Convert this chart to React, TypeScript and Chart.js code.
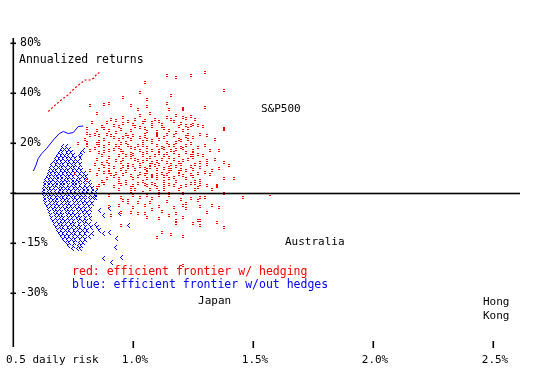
import { useEffect, useRef } from 'react';
import { Chart, registerables } from 'chart.js';

Chart.register(...registerables);

// ---- axis definitions (y axis is an ordinal-like return scale: each step is one grid unit) ----
const xMin = 0.5;
const xMax = 2.6125;
const yMin = -3.08;
const yMax = 3.1;
const xTickValues = [0.5, 1.0, 1.5, 2.0, 2.5];
const xTickLabels = ['0.5 daily risk', '1.0%', '1.5%', '2.0%', '2.5%'];
const yTickValues = [3, 2, 1, 0, -1, -2];
const yTickLabels = ['80%', '40%', '20%', '', '-15%', '-30%'];

// ---- efficient frontiers ----
const hedgedRisk = [0.647, 0.667, 0.703, 0.729, 0.758, 0.779, 0.8, 0.821, 0.8375, 0.849, 0.86];
const hedgedRet = [1.63, 1.72, 1.87, 1.96, 2.1, 2.18, 2.26, 2.26, 2.3, 2.38, 2.41];
const unhedgedRisk = [0.585, 0.596, 0.605, 0.62, 0.64, 0.668, 0.693, 0.71, 0.73, 0.751, 0.772, 0.793];
const unhedgedRet = [0.44, 0.56, 0.69, 0.79, 0.89, 1.06, 1.19, 1.23, 1.19, 1.21, 1.33, 1.34];

// ---- red cloud (with hedging): [risk, return] ----
const redCloud: number[][] = [
  [1.14, 2.36], [1.18, 2.32], [1.24, 2.36], [1.3, 2.42], [1.05, 2.22], [1.03, 2.02], [1.38, 2.06], [0.96, 1.92],
  [1.06, 1.88], [1.14, 1.8], [0.9, 1.8], [0.88, 1.78], [0.82, 1.76], [0.99, 1.76], [1.06, 1.74], [1.02, 1.68],
  [1.21, 1.68], [1.15, 1.68], [1.3, 1.72], [0.85, 1.6], [0.96, 1.52], [1.03, 1.56], [1.07, 1.6], [1.14, 1.52],
  [1.18, 1.56], [1.22, 1.5], [0.83, 1.42], [0.89, 1.42], [0.92, 1.36], [0.96, 1.4], [1.0, 1.38], [1.05, 1.46],
  [1.08, 1.42], [1.11, 1.44], [1.2, 1.4], [1.24, 1.36], [1.27, 1.36], [1.38, 1.28], [0.81, 1.3], [0.85, 1.26],
  [0.9, 1.26], [0.93, 1.22], [0.99, 1.26], [1.03, 1.32], [1.06, 1.24], [1.1, 1.24], [1.15, 1.26], [1.18, 1.22],
  [1.21, 1.26], [0.82, 1.16], [0.86, 1.16], [0.92, 1.12], [0.96, 1.12], [1.0, 1.16], [1.03, 1.12], [1.08, 1.06],
  [1.13, 1.12], [1.17, 1.16], [1.2, 1.06], [1.25, 1.12], [1.31, 1.16], [0.81, 1.02], [0.85, 1.0], [0.9, 1.0],
  [0.95, 1.0], [0.99, 0.92], [1.04, 0.96], [1.08, 1.02], [1.12, 0.92], [1.15, 0.96], [1.2, 0.92], [1.24, 1.0],
  [1.27, 0.92], [0.84, 0.9], [0.88, 0.84], [0.92, 0.88], [0.96, 0.82], [1.0, 0.78], [1.06, 0.82], [1.08, 0.86],
  [1.14, 0.8], [1.18, 0.88], [1.22, 0.82], [1.27, 0.78], [1.32, 0.86], [0.9, 0.72], [0.93, 0.66], [0.99, 0.72],
  [1.02, 0.66], [1.07, 0.72], [1.1, 0.64], [1.15, 0.72], [1.21, 0.66], [1.25, 0.72], [1.31, 0.66], [1.38, 0.62],
  [0.87, 0.6], [0.92, 0.52], [0.96, 0.54], [1.0, 0.56], [1.05, 0.5], [1.09, 0.56], [1.13, 0.5], [1.18, 0.54],
  [1.22, 0.46], [1.28, 0.52], [1.33, 0.46], [1.4, 0.56], [0.88, 0.42], [0.93, 0.4], [0.99, 0.36], [1.03, 0.4],
  [1.08, 0.36], [1.12, 0.4], [1.17, 0.32], [1.21, 0.36], [1.27, 0.4], [1.28, 0.26], [1.35, 0.14], [1.42, 0.3],
  [0.86, 0.16], [0.92, 0.14], [0.97, 0.2], [1.02, 0.2], [1.06, 0.16], [1.1, 0.12], [1.15, 0.18], [1.2, 0.14],
  [1.24, 0.2], [1.31, 0.16], [0.99, 0.04], [1.04, 0.02], [1.11, 0.04], [1.15, 0.0], [1.21, 0.0], [1.38, 0.0],
  [1.46, -0.08], [1.26, 0.2], [1.28, -0.08], [1.3, -0.08], [1.27, -0.14], [1.21, -0.24], [1.22, -0.2], [1.28, -0.26],
  [1.33, -0.24], [1.36, -0.28], [1.22, -0.3], [1.31, -0.38], [1.35, -0.58], [1.27, -0.54], [1.25, -0.6], [1.28, -0.64],
  [1.38, -0.68], [0.94, 0.22], [0.99, 0.12], [1.08, 0.2], [1.13, 0.16], [1.27, 0.12], [1.35, 0.16], [0.9, -0.04],
  [0.95, -0.08], [0.98, -0.14], [1.0, -0.04], [1.03, -0.08], [1.06, -0.04], [1.08, -0.1], [1.11, -0.04], [1.15, -0.04],
  [1.24, -0.1], [0.96, -0.14], [0.98, -0.17], [1.02, -0.18], [1.07, -0.18], [1.14, -0.16], [1.2, -0.12], [0.9, -0.26],
  [0.94, -0.24], [1.0, -0.28], [1.05, -0.24], [1.11, -0.26], [1.17, -0.28], [0.95, -0.38], [0.99, -0.38], [1.02, -0.4],
  [1.05, -0.4], [1.08, -0.32], [1.12, -0.36], [1.15, -0.44], [1.18, -0.4], [1.06, -0.48], [1.11, -0.5], [1.18, -0.54],
  [1.21, -0.48], [1.28, -0.54], [0.91, -0.44], [0.95, -0.64], [1.12, -0.78], [1.16, -0.82], [1.21, -0.86], [1.1, -0.88],
  [1.18, -0.6], [1.21, -1.44], [0.81, 1.2], [0.81, 0.96], [0.77, 1.0], [0.76, 0.4], [0.82, 0.46], [0.81, 0.26],
  [0.85, 0.12], [0.88, 0.2], [1.21, 1.7], [1.21, 1.52], [1.24, 1.54], [1.22, 1.36], [1.25, 1.38], [1.38, 1.3],
  [1.16, 1.96], [1.57, -0.02],
  [0.91, 1.48], [1.01, 1.48], [1.09, 1.48], [1.16, 1.48], [1.26, 1.48],
  [0.87, 1.34], [0.94, 1.34], [1.01, 1.34], [1.08, 1.34], [1.12, 1.34], [1.19, 1.34], [1.29, 1.34],
  [0.84, 1.19], [0.89, 1.19], [0.97, 1.19], [1.05, 1.19], [1.1, 1.19], [1.14, 1.19], [1.23, 1.19], [1.28, 1.19],
  [0.8, 1.08], [0.88, 1.08], [0.94, 1.08], [0.99, 1.08], [1.06, 1.08], [1.11, 1.08], [1.19, 1.08], [1.23, 1.08], [1.34, 1.08],
  [0.86, 0.97], [0.93, 0.97], [0.98, 0.97], [1.02, 0.97], [1.1, 0.97], [1.17, 0.97], [1.22, 0.97], [1.3, 0.97],
  [0.82, 0.87], [0.9, 0.87], [0.95, 0.87], [1.03, 0.87], [1.11, 0.87], [1.16, 0.87], [1.25, 0.87], [1.36, 0.87],
  [0.87, 0.76], [0.94, 0.76], [0.97, 0.76], [1.04, 0.76], [1.09, 0.76], [1.13, 0.76], [1.19, 0.76], [1.24, 0.76], [1.29, 0.76],
  [0.85, 0.69], [0.96, 0.69], [1.01, 0.69], [1.06, 0.69], [1.12, 0.69], [1.17, 0.69], [1.23, 0.69], [1.34, 0.69],
  [0.84, 0.58], [0.9, 0.58], [0.98, 0.58], [1.03, 0.58], [1.07, 0.58], [1.11, 0.58], [1.16, 0.58], [1.2, 0.58], [1.26, 0.58], [1.31, 0.58],
  [0.86, 0.48], [0.9, 0.48], [0.95, 0.48], [1.01, 0.48], [1.06, 0.48], [1.1, 0.48], [1.16, 0.48], [1.2, 0.48], [1.25, 0.48],
  [0.85, 0.38], [0.91, 0.38], [0.96, 0.38], [1.05, 0.38], [1.1, 0.38], [1.14, 0.38], [1.19, 0.38], [1.24, 0.38], [1.32, 0.38],
  [0.89, 0.3], [0.94, 0.3], [1.0, 0.3], [1.06, 0.3], [1.1, 0.3], [1.15, 0.3], [1.22, 0.3], [1.38, 0.3],
  [0.87, 0.24], [0.97, 0.24], [1.04, 0.24], [1.13, 0.24], [1.18, 0.24], [1.26, 0.24],
  [0.94, 0.08], [1.01, 0.08], [1.07, 0.08], [1.13, 0.08], [1.19, 0.08], [1.26, 0.08], [1.33, 0.08],
  [0.93, 1.45], [0.98, 1.44], [1.04, 1.41], [1.12, 1.39], [1.17, 1.43], [0.88, 1.3], [0.95, 1.28], [1.05, 1.29],
  [1.13, 1.3], [1.23, 1.29], [0.91, 1.16], [0.98, 1.14], [1.05, 1.14], [1.1, 1.15], [1.22, 1.14], [0.86, 1.04],
  [0.97, 1.03], [1.04, 1.04], [1.14, 1.03], [1.18, 1.02], [0.88, 0.94], [0.94, 0.93], [1.01, 0.9], [1.06, 0.92],
  [1.13, 0.9], [1.21, 0.89], [0.86, 0.82], [0.99, 0.81], [1.04, 0.8], [1.11, 0.81], [1.17, 0.82], [1.25, 0.81],
  [0.89, 0.64], [0.95, 0.63], [1.04, 0.64], [1.08, 0.62], [1.14, 0.63], [1.19, 0.62], [1.28, 0.62], [0.88, 0.53],
  [0.98, 0.52], [1.03, 0.53], [1.07, 0.52], [1.15, 0.52], [1.24, 0.53], [1.36, 0.5], [0.9, 0.42], [0.97, 0.43],
  [1.06, 0.42], [1.15, 0.43], [1.19, 0.44], [1.3, 0.42], [0.92, 0.33], [1.02, 0.33], [1.08, 0.33], [1.13, 0.34],
  [1.25, 0.33], [0.95, 0.18], [1.0, 0.17], [1.05, 0.19], [1.09, 0.18], [1.17, 0.16], [1.22, 0.15], [1.28, 0.18],
];

// ---- blue cloud (without hedges): rows of equal return, with the risks read in each row ----
const blueRowRet = [
  0.94, 0.88, 0.82, 0.76, 0.7, 0.64, 0.58, 0.52, 0.46, 0.4, 0.34, 0.28, 0.22, 0.16, 0.1, 0.04, -0.02, -0.08,
  -0.14, -0.2, -0.26, -0.32, -0.38, -0.44, -0.5, -0.56, -0.62, -0.68, -0.74, -0.8, -0.86, -0.92, -0.98, -1.04, -1.1,
];
const blueRowRisk: number[][] = [
  [0.705, 0.72],
  [0.7, 0.715, 0.735],
  [0.69, 0.705, 0.725, 0.74, 0.785],
  [0.685, 0.7, 0.715, 0.73, 0.75, 0.775],
  [0.675, 0.69, 0.71, 0.725, 0.74, 0.76],
  [0.67, 0.685, 0.7, 0.72, 0.735, 0.755, 0.77],
  [0.66, 0.68, 0.695, 0.71, 0.73, 0.745, 0.76, 0.78],
  [0.655, 0.67, 0.69, 0.705, 0.72, 0.74, 0.755, 0.775],
  [0.65, 0.665, 0.68, 0.7, 0.715, 0.73, 0.75, 0.765, 0.785],
  [0.645, 0.66, 0.675, 0.69, 0.71, 0.725, 0.74, 0.76, 0.78, 0.795],
  [0.64, 0.655, 0.67, 0.685, 0.7, 0.72, 0.735, 0.75, 0.77, 0.79, 0.805],
  [0.635, 0.65, 0.665, 0.685, 0.7, 0.715, 0.73, 0.745, 0.765, 0.78, 0.8],
  [0.63, 0.645, 0.66, 0.68, 0.695, 0.71, 0.725, 0.745, 0.76, 0.775, 0.795, 0.815],
  [0.63, 0.645, 0.665, 0.68, 0.695, 0.71, 0.73, 0.745, 0.76, 0.78, 0.8, 0.82],
  [0.625, 0.64, 0.655, 0.67, 0.69, 0.705, 0.72, 0.735, 0.755, 0.77, 0.79, 0.81, 0.83],
  [0.625, 0.645, 0.66, 0.675, 0.69, 0.71, 0.725, 0.74, 0.76, 0.775, 0.79, 0.81, 0.83, 0.845],
  [0.625, 0.64, 0.655, 0.67, 0.685, 0.7, 0.72, 0.735, 0.75, 0.77, 0.785, 0.8, 0.82, 0.84],
  [0.63, 0.645, 0.66, 0.68, 0.695, 0.71, 0.725, 0.745, 0.76, 0.78, 0.795, 0.815, 0.835],
  [0.63, 0.65, 0.665, 0.68, 0.7, 0.715, 0.73, 0.75, 0.765, 0.785, 0.8, 0.82],
  [0.635, 0.655, 0.67, 0.685, 0.705, 0.72, 0.735, 0.755, 0.77, 0.79, 0.81, 0.83],
  [0.64, 0.66, 0.675, 0.69, 0.71, 0.725, 0.74, 0.76, 0.775, 0.795, 0.815],
  [0.645, 0.665, 0.68, 0.695, 0.715, 0.73, 0.745, 0.765, 0.785, 0.8, 0.82],
  [0.65, 0.67, 0.685, 0.7, 0.72, 0.735, 0.75, 0.77, 0.79, 0.81],
  [0.655, 0.675, 0.69, 0.705, 0.725, 0.74, 0.76, 0.775, 0.795, 0.815],
  [0.66, 0.68, 0.695, 0.71, 0.73, 0.745, 0.765, 0.78, 0.8, 0.82],
  [0.665, 0.685, 0.7, 0.715, 0.735, 0.75, 0.77, 0.79, 0.805],
  [0.67, 0.69, 0.705, 0.72, 0.74, 0.755, 0.775, 0.795, 0.815, 0.84],
  [0.68, 0.695, 0.71, 0.73, 0.745, 0.765, 0.78, 0.8, 0.825, 0.85],
  [0.685, 0.7, 0.72, 0.735, 0.755, 0.77, 0.79, 0.81, 0.86],
  [0.69, 0.71, 0.725, 0.745, 0.76, 0.78, 0.8, 0.83],
  [0.7, 0.715, 0.735, 0.75, 0.77, 0.79, 0.815],
  [0.71, 0.725, 0.745, 0.76, 0.78, 0.8],
  [0.72, 0.735, 0.755, 0.775, 0.79],
  [0.73, 0.75, 0.77, 0.785],
  [0.745, 0.765, 0.78],
];
const blueOutliers: number[][] = [
  [0.875, -0.8], [0.9, -0.78], [0.93, -0.9], [0.98, -0.64], [0.925, -1.08], [0.875, -1.3], [0.91, -1.38],
  [0.95, -1.28], [0.875, -0.44], [0.9, -0.3], [0.94, -0.4], [0.86, -0.34], [0.84, -0.08], [0.79, 0.86], [0.78, 0.72],
];

// ---- text notes placed in data coordinates ----
const notes = [
  { text: 'Annualized returns', x: 0.525, y: 2.66, color: '#000000', size: 11.5 },
  { text: 'S&P500', x: 1.533, y: 1.68, color: '#000000', size: 11 },
  { text: 'Australia', x: 1.633, y: -0.98, color: '#000000', size: 11 },
  { text: 'Japan', x: 1.271, y: -2.16, color: '#000000', size: 11 },
  { text: 'Hong', x: 2.458, y: -2.18, color: '#000000', size: 11 },
  { text: 'Kong', x: 2.458, y: -2.46, color: '#000000', size: 11 },
  { text: 'red: efficient frontier w/ hedging', x: 0.746, y: -1.58, color: '#ff0000', size: 11.5 },
  { text: 'blue: efficient frontier w/out hedges', x: 0.746, y: -1.84, color: '#0000ff', size: 11.5 },
];

const FONT = '"DejaVu Sans Mono", "Liberation Mono", monospace';

// pixel patterns of the two marks ("=" for red, "<" for blue), relative to the point
const redMarkPixels = [[-1, -1], [0, -1], [-1, 1], [0, 1]];
const blueMarkPixels = [[1, -2], [0, -1], [-1, 0], [0, 1], [1, 2]];

function drawMarks(chart: any, datasetIndex: number, color: string, pixels: number[][]) {
  const ctx = chart.ctx;
  const meta = chart.getDatasetMeta(datasetIndex);
  ctx.fillStyle = color;
  meta.data.forEach((el: any) => {
    const cx = Math.round(el.x);
    const cy = Math.round(el.y);
    pixels.forEach(([dx, dy]) => ctx.fillRect(cx + dx, cy + dy, 1, 1));
  });
}

const overlay = {
  id: 'overlay',
  afterDatasetsDraw(chart: any) {
    const { ctx, chartArea } = chart;
    const xs = chart.scales.x;
    const ys = chart.scales.y;
    ctx.save();
    drawMarks(chart, 1, '#0000ff', blueMarkPixels);
    drawMarks(chart, 0, '#ff0000', redMarkPixels);
    const x0 = xs.getPixelForValue(xMin);
    ctx.fillStyle = '#000000';
    // y axis line
    ctx.fillRect(x0 - 0.5, chartArea.top, 1.6, chartArea.bottom - chartArea.top);
    // zero line
    const yZero = ys.getPixelForValue(0);
    ctx.fillRect(x0, yZero - 0.3, chartArea.right - x0, 1.6);
    // y ticks and labels
    ctx.font = '11.5px ' + FONT;
    ctx.textAlign = 'left';
    ctx.textBaseline = 'middle';
    yTickValues.forEach((v, i) => {
      const py = ys.getPixelForValue(v);
      ctx.fillRect(x0 - 2.5, py - 0.5, 5.5, 1.6);
      if (yTickLabels[i]) ctx.fillText(yTickLabels[i], x0 + 7, py + 0.5);
    });
    // x ticks and labels
    ctx.font = '11px ' + FONT;
    xTickValues.forEach((v, i) => {
      const px = xs.getPixelForValue(v);
      if (i > 0) ctx.fillRect(px - 0.5, chartArea.bottom - 6, 1.6, 7);
      ctx.textAlign = i === 0 ? 'left' : 'center';
      ctx.fillText(xTickLabels[i], i === 0 ? px - 7 : px + 2, chartArea.bottom + 13);
    });
    // notes
    notes.forEach((n) => {
      ctx.font = n.size + 'px ' + FONT;
      ctx.fillStyle = n.color;
      ctx.textAlign = 'left';
      ctx.textBaseline = 'middle';
      ctx.fillText(n.text, xs.getPixelForValue(n.x), ys.getPixelForValue(n.y));
    });
    ctx.restore();
  },
};

export default function App() {
  const ref = useRef<HTMLCanvasElement | null>(null);
  useEffect(() => {
    document.body.style.margin = '0';
    const bluePoints: { x: number; y: number }[] = [];
    blueRowRet.forEach((r, i) => blueRowRisk[i].forEach((x) => bluePoints.push({ x, y: r })));
    blueOutliers.forEach(([x, y]) => bluePoints.push({ x, y }));
    const chart = new Chart(ref.current!, {
      type: 'scatter',
      data: {
        datasets: [
          {
            label: 'hedged portfolios',
            data: redCloud.map(([x, y]) => ({ x, y })),
            pointRadius: 0,
            backgroundColor: '#ff0000',
            borderColor: '#ff0000',
          },
          {
            label: 'unhedged portfolios',
            data: bluePoints,
            pointRadius: 0,
            backgroundColor: '#0000ff',
            borderColor: '#0000ff',
          },
          {
            label: 'efficient frontier w/ hedging',
            data: hedgedRisk.map((x, i) => ({ x, y: hedgedRet[i] })),
            showLine: true,
            borderColor: '#ff0000',
            borderWidth: 1.2,
            borderDash: [2, 2],
            pointRadius: 0,
          },
          {
            label: 'efficient frontier w/out hedges',
            data: unhedgedRisk.map((x, i) => ({ x, y: unhedgedRet[i] })),
            showLine: true,
            borderColor: '#0000ff',
            borderWidth: 1,
            pointRadius: 0,
          },
        ],
      },
      options: {
        responsive: false,
        animation: false,
        events: [],
        layout: { padding: { left: 13, right: 22, top: 38, bottom: 33 } },
        plugins: { legend: { display: false }, tooltip: { enabled: false } },
        scales: {
          x: { type: 'linear', min: xMin, max: xMax, display: false },
          y: { type: 'linear', min: yMin, max: yMax, display: false },
        },
      },
      plugins: [overlay],
    });
    return () => chart.destroy();
  }, []);
  return (
    <div style={{ width: 542, height: 380, background: '#ffffff' }}>
      <canvas ref={ref} width={542} height={380} style={{ display: 'block' }} />
    </div>
  );
}
